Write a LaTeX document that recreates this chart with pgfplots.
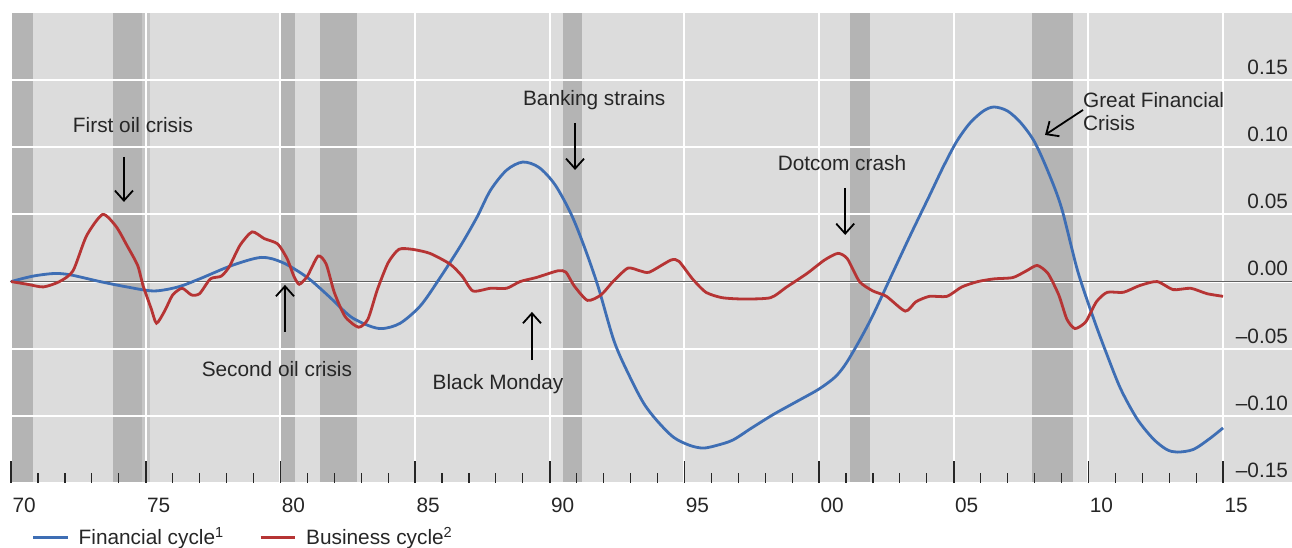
\documentclass[border=0pt]{standalone}
\usepackage{fontspec}
\setmainfont{Liberation Sans}
\usepackage{pgfplots}
\pgfplotsset{compat=1.18}
\usetikzlibrary{arrows.meta}

\definecolor{bgGray}{HTML}{DCDCDC}
\definecolor{recGray}{HTML}{B4B4B4}
\definecolor{recLight}{HTML}{C6C6C6}
\definecolor{finBlue}{HTML}{3E6EB4}
\definecolor{busRed}{HTML}{B63434}
\definecolor{zeroLine}{HTML}{626262}
\definecolor{txt}{HTML}{262626}

\newcommand{\lblfont}{\fontsize{10.4}{11.5}\selectfont}

\begin{document}
\begin{tikzpicture}
\begin{axis}[
    set layers,
    scale only axis,
    width=641pt, height=235pt,
    xmin=1969.96, xmax=2017.56,
    ymin=-0.15, ymax=0.20,
    axis background/.style={fill=bgGray},
    axis line style={draw=none},
    clip=true,
    % x axis: years, labels sit in the middle of the year
    xtick={1970,1975,1980,1985,1990,1995,2000,2005,2010,2015},
    xticklabels={70,75,80,85,90,95,00,05,10,15},
    minor x tick num=4,
    xtick pos=bottom,
    tick align=inside,
    major tick length=11pt,
    minor tick length=5pt,
    xtick style={color=black!85, line width=0.8pt},
    minor x tick style={line width=0.6pt},
    xticklabel style={xshift=6.5pt, yshift=-4pt},
    % y axis: labels inside the plot, on the right
    ytick={-0.15,-0.1,-0.05,0,0.05,0.1,0.15},
    yticklabels={–0.15,–0.10,–0.05,0.00,0.05,0.10,0.15},
    ytick style={draw=none},
    yticklabel pos=right,
    yticklabel style={anchor=south east, xshift=1.5pt, yshift=-0.8pt},
    tick label style={font=\lblfont, text=txt},
    grid=major,
    major grid style={white, line width=1pt},
    legend style={
        at={(0.012,-0.116)}, anchor=west,
        draw=none, fill=none,
        font=\lblfont, text=txt,
        legend columns=2,
        /tikz/every odd column/.append style={column sep=3pt},
        /tikz/every even column/.append style={column sep=15.5pt}
    },
    legend cell align=left,
]
% recession bands
\addplot[on layer=axis background, draw=none, fill=recGray, forget plot] coordinates {(1970.03,-0.15) (1970.03,0.2) (1970.81,0.2) (1970.81,-0.15)} -- cycle;
\addplot[on layer=axis background, draw=none, fill=recGray, forget plot] coordinates {(1973.78,-0.15) (1973.78,0.2) (1974.86,0.2) (1974.86,-0.15)} -- cycle;
\addplot[on layer=axis background, draw=none, fill=recLight, forget plot] coordinates {(1974.86,-0.15) (1974.86,0.2) (1975.16,0.2) (1975.16,-0.15)} -- cycle;
\addplot[on layer=axis background, draw=none, fill=recGray, forget plot] coordinates {(1979.99,-0.15) (1979.99,0.2) (1980.54,0.2) (1980.54,-0.15)} -- cycle;
\addplot[on layer=axis background, draw=none, fill=recGray, forget plot] coordinates {(1981.47,-0.15) (1981.47,0.2) (1982.85,0.2) (1982.85,-0.15)} -- cycle;
\addplot[on layer=axis background, draw=none, fill=recGray, forget plot] coordinates {(1990.49,-0.15) (1990.49,0.2) (1991.20,0.2) (1991.20,-0.15)} -- cycle;
\addplot[on layer=axis background, draw=none, fill=recGray, forget plot] coordinates {(2001.15,-0.15) (2001.15,0.2) (2001.89,0.2) (2001.89,-0.15)} -- cycle;
\addplot[on layer=axis background, draw=none, fill=recGray, forget plot] coordinates {(2007.91,-0.15) (2007.91,0.2) (2009.43,0.2) (2009.43,-0.15)} -- cycle;

% zero line
\addplot[zeroLine, line width=0.8pt, forget plot] coordinates {(1969.96,0) (2017.56,0)};

% Financial cycle
\addplot[finBlue, line width=1.4pt, smooth, tension=0.5] coordinates {
    (1970.0,0.000) (1970.8,0.004) (1971.6,0.006) (1972.2,0.005) (1973.3,0.000)
    (1974.3,-0.004) (1975.3,-0.007) (1976.2,-0.004) (1977.0,0.002) (1978.2,0.012)
    (1979.3,0.018) (1980.1,0.014) (1981.0,0.003) (1981.8,-0.011) (1982.6,-0.026)
    (1983.3,-0.033) (1983.8,-0.035) (1984.45,-0.031) (1985.2,-0.018) (1985.9,0.002)
    (1986.7,0.027) (1987.3,0.048) (1987.8,0.068) (1988.4,0.083) (1989.0,0.089)
    (1989.6,0.085) (1990.2,0.072) (1990.8,0.050) (1991.3,0.025) (1991.8,-0.004)
    (1992.4,-0.045) (1993.0,-0.072) (1993.5,-0.091) (1994.0,-0.104) (1994.6,-0.116)
    (1995.2,-0.122) (1995.7,-0.124) (1996.2,-0.122) (1996.8,-0.118) (1997.5,-0.109)
    (1998.3,-0.099) (1999.2,-0.089) (2000.0,-0.080) (2000.6,-0.071) (2001.0,-0.061)
    (2001.5,-0.044) (2002.0,-0.025) (2002.7,0.005) (2003.4,0.035) (2004.1,0.064)
    (2004.6,0.085) (2005.1,0.104) (2005.6,0.118) (2006.1,0.127) (2006.5,0.130)
    (2007.0,0.127) (2007.5,0.118) (2008.0,0.104) (2008.5,0.082) (2009.0,0.055)
    (2009.6,0.008) (2010.2,-0.028) (2010.7,-0.055) (2011.2,-0.080) (2011.8,-0.102)
    (2012.4,-0.117) (2012.9,-0.125) (2013.3,-0.127) (2013.9,-0.125) (2014.5,-0.117)
    (2015.0,-0.109)
};
\addlegendentry{Financial cycle\textsuperscript{1}}

% Business cycle
\addplot[busRed, line width=1.4pt, smooth, tension=0.4] coordinates {
    (1970.0,0.000) (1970.6,-0.002) (1971.2,-0.004) (1971.8,0.000) (1972.3,0.008)
    (1972.8,0.034) (1973.4,0.050) (1973.9,0.041) (1974.3,0.027) (1974.7,0.012)
    (1974.9,-0.003) (1975.2,-0.020) (1975.4,-0.031) (1975.7,-0.022) (1976.0,-0.010)
    (1976.35,-0.005) (1976.7,-0.010) (1977.0,-0.009) (1977.4,0.002) (1977.8,0.004)
    (1978.1,0.011) (1978.5,0.027) (1978.95,0.037) (1979.4,0.032) (1979.9,0.028)
    (1980.25,0.017) (1980.5,0.004) (1980.7,-0.002) (1981.0,0.004) (1981.4,0.019)
    (1981.7,0.013) (1982.0,-0.008) (1982.4,-0.026) (1982.9,-0.034) (1983.25,-0.028)
    (1983.6,-0.006) (1984.0,0.014) (1984.4,0.024) (1984.9,0.024) (1985.55,0.021)
    (1986.3,0.013) (1986.75,0.004) (1987.15,-0.007) (1987.8,-0.005) (1988.4,-0.005)
    (1988.9,0.000) (1989.5,0.003) (1990.3,0.008) (1990.6,0.007) (1990.9,-0.003)
    (1991.4,-0.014) (1991.9,-0.010) (1992.35,0.000) (1992.9,0.010) (1993.35,0.008)
    (1993.7,0.007) (1994.5,0.016) (1994.8,0.015) (1995.3,0.002) (1995.8,-0.008)
    (1996.4,-0.012) (1997.2,-0.013) (1998.2,-0.012) (1998.8,-0.004) (1999.55,0.006)
    (2000.2,0.016) (2000.7,0.021) (2001.05,0.017) (2001.5,0.000) (2002.0,-0.007)
    (2002.5,-0.011) (2003.2,-0.022) (2003.6,-0.015) (2004.1,-0.011) (2004.75,-0.011)
    (2005.3,-0.004) (2005.9,0.000) (2006.5,0.002) (2007.2,0.003) (2007.7,0.008)
    (2008.1,0.012) (2008.5,0.006) (2008.9,-0.010) (2009.2,-0.028) (2009.5,-0.035)
    (2009.9,-0.030) (2010.3,-0.015) (2010.7,-0.008) (2011.3,-0.008) (2011.9,-0.003)
    (2012.55,0.000) (2013.15,-0.006) (2013.8,-0.005) (2014.4,-0.009) (2015.0,-0.011)
};
\addlegendentry{Business cycle\textsuperscript{2}}

% annotations
\begin{scope}[font=\lblfont, text=txt]
\node at (axis cs:1974.53,0.1166) {First oil crisis};
\node at (axis cs:1979.87,-0.0652) {Second oil crisis};
\node at (axis cs:1988.08,-0.0764) {Black Monday};
\node at (axis cs:1991.65,0.1353) {Banking strains};
\node at (axis cs:2000.85,0.0883) {Dotcom crash};
\node[anchor=west, align=left] at (axis cs:2009.54,0.1267) {Great Financial\\Crisis};
\end{scope}
\begin{scope}[black, line width=0.9pt, -{Straight Barb[length=5pt,width=9pt]}]
\draw (axis cs:1974.19,0.0928) -- (axis cs:1974.19,0.0593);
\draw (axis cs:1980.17,-0.0375) -- (axis cs:1980.17,-0.0025);
\draw (axis cs:1989.34,-0.0585) -- (axis cs:1989.34,-0.0226);
\draw (axis cs:1990.94,0.1181) -- (axis cs:1990.94,0.0831);
\draw (axis cs:2000.97,0.0697) -- (axis cs:2000.97,0.0347);
\draw (axis cs:2009.80,0.1278) -- (axis cs:2008.39,0.1092);
\end{scope}
\end{axis}
\pgfresetboundingbox
\path[use as bounding box] ([xshift=-5pt,yshift=-32.5pt]current axis.south west) rectangle ([yshift=6.5pt]current axis.north east);
\end{tikzpicture}
\end{document}
